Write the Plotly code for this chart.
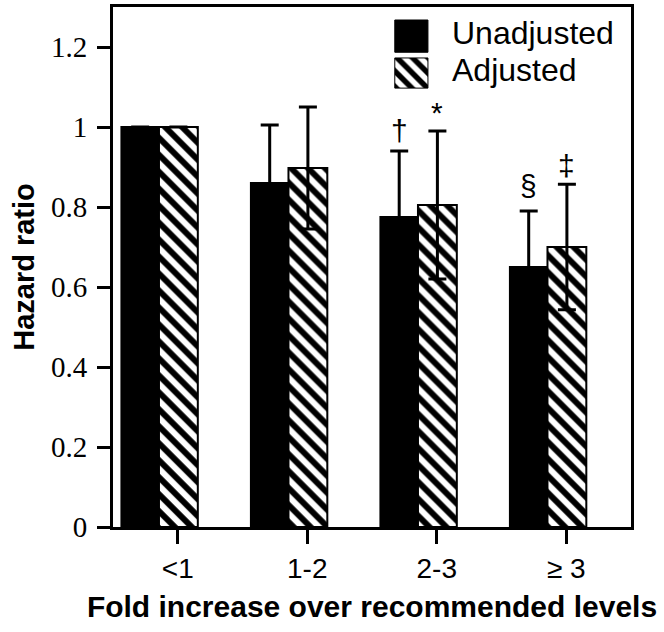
import plotly.graph_objects as go

# data
categories = ["<1", "1-2", "2-3", "\u2265 3"]
unadjusted = [1.0, 0.86, 0.775, 0.65]
unadjusted_err = [0.0, 0.145, 0.165, 0.14]
adjusted = [1.0, 0.8975, 0.805, 0.70]
adjusted_err = [0.0, 0.1525, 0.185, 0.157]
unadjusted_marks = ["", "", "\u2020", "\u00a7"]
adjusted_marks = ["", "", "*", "\u2021"]

xpos = list(range(len(categories)))

hatch = dict(shape="\\", fgcolor="black", bgcolor="white", fgopacity=1,
             size=12, solidity=0.5)

fig = go.Figure()

# solid bars (left of each tick)
fig.add_trace(go.Bar(
    x=xpos, y=unadjusted, width=0.29, offset=-0.435,
    marker=dict(color="black", line=dict(color="black", width=2)),
    error_y=dict(type="data", array=unadjusted_err, visible=True,
                 color="black", thickness=3, width=9),
    showlegend=False,
))

# hatched bars (centred on each tick)
fig.add_trace(go.Bar(
    x=xpos, y=adjusted, width=0.30, offset=-0.145,
    marker=dict(color="white", opacity=1, line=dict(color="black", width=2),
                pattern=hatch),
    error_y=dict(type="data", array=adjusted_err, visible=True,
                 color="black", thickness=3, width=9),
    showlegend=False,
))

# significance marks above the error bars
mark_font = dict(family="Liberation Sans", size=30, color="black")
for i in xpos:
    if unadjusted_marks[i]:
        fig.add_annotation(x=i - 0.29, y=unadjusted[i] + unadjusted_err[i],
                           text=unadjusted_marks[i], showarrow=False,
                           yanchor="bottom", yshift=2 if i < 3 else 7, font=mark_font)
    if adjusted_marks[i]:
        fig.add_annotation(x=i, y=adjusted[i] + adjusted_err[i],
                           text=adjusted_marks[i], showarrow=False,
                           yanchor="bottom", yshift=0, font=mark_font)

# legend drawn by hand so the swatches can be large
fig.add_trace(go.Scatter(
    x=[0.544, 0.608, 0.608, 0.544, 0.544], y=[0.913, 0.913, 0.975, 0.975, 0.913],
    xaxis="x2", yaxis="y2", mode="lines", fill="toself",
    fillcolor="black", line=dict(color="black", width=1),
    showlegend=False, hoverinfo="skip",
))
fig.add_trace(go.Scatter(
    x=[0.544, 0.608, 0.608, 0.544, 0.544], y=[0.844, 0.844, 0.902, 0.902, 0.844],
    xaxis="x2", yaxis="y2", mode="lines", fill="toself",
    fillcolor="white", line=dict(color="black", width=1),
    fillpattern=dict(shape="\\", fgcolor="black", bgcolor="white", fgopacity=1,
                     size=11, solidity=0.5),
    showlegend=False, hoverinfo="skip",
))
for label, yy in [("Unadjusted", 0.950), ("Adjusted", 0.878)]:
    fig.add_annotation(x=0.650, y=yy, xref="x2", yref="y2", text=label,
                       showarrow=False, xanchor="left", yanchor="middle",
                       font=dict(family="Liberation Sans", size=32, color="black"))

fig.update_layout(
    width=664, height=632,
    margin=dict(l=113, r=33, t=7, b=105),
    paper_bgcolor="white", plot_bgcolor="white",
    barmode="overlay",
    xaxis=dict(
        range=[-0.5, 3.5], tickvals=xpos, ticktext=categories,
        showline=True, mirror=True, linecolor="black", linewidth=3,
        ticks="outside", ticklen=14, tickwidth=3, tickcolor="black",
        showgrid=False, zeroline=False, automargin=False,
        tickfont=dict(family="Liberation Sans", size=28, color="black"),
        title=dict(text="<b>Fold increase over recommended levels</b>",
                   font=dict(family="Liberation Sans", size=30, color="black"),
                   standoff=14),
    ),
    yaxis=dict(
        range=[0, 1.3], tickvals=[0, 0.2, 0.4, 0.6, 0.8, 1.0, 1.2],
        ticktext=["0", "0.2", "0.4", "0.6", "0.8", "1", "1.2"],
        showline=True, mirror=True, linecolor="black", linewidth=3,
        ticks="outside", ticklen=13, tickwidth=3, tickcolor="black",
        showgrid=False, zeroline=False, automargin=False,
        tickfont=dict(family="Liberation Serif", size=29, color="black"),
        ticklabelstandoff=4,
        title=dict(text="<b>Hazard ratio</b>",
                   font=dict(family="Liberation Sans", size=29, color="black"),
                   standoff=8),
    ),
    xaxis2=dict(overlaying="x", range=[0, 1], visible=False),
    yaxis2=dict(overlaying="y", range=[0, 1], visible=False),
)

fig.write_html("out.html", config={"displayModeBar": False},
               post_script="document.body.style.margin='0';")
